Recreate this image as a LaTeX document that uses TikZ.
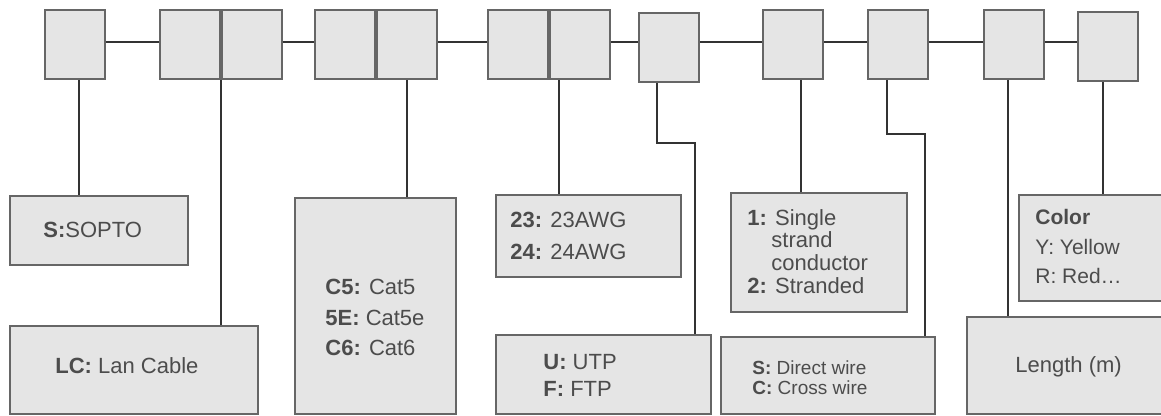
\documentclass[tikz,border=0pt]{standalone}
\usepackage{fontspec}
\setmainfont{Liberation Sans}
\usetikzlibrary{positioning, calc}

\begin{document}
\begin{tikzpicture}[
    x=0.5pt, y=-0.5pt,
    cell/.style={rectangle, draw=black!60, fill=black!10, line width=1pt,
        minimum width=30pt, minimum height=34.5pt, inner sep=0pt},
    codebox/.style={rectangle, draw=black!60, fill=black!10, line width=1pt, inner sep=0pt},
    codetext/.style={inner sep=0pt, align=left, text=black!70, font=\fontsize{11}{13}\selectfont},
    link/.style={draw=black!80, line width=1pt},
]
\useasboundingbox (0,0) rectangle (1161,416);
\clip (0,0) rectangle (1161,416);

% top row of code cells
\node[cell] (b1) at (74.5,44.5) {};
\node[cell] (b2a) at (189.5,44.5) {};
\node[cell, right=0pt of b2a] (b2b) {};
\node[cell] (b3a) at (345,44.5) {};
\node[cell, right=0pt of b3a] (b3b) {};
\node[cell] (b4a) at (518,44.5) {};
\node[cell, right=0pt of b4a] (b4b) {};
\node[cell] (b5) at (669,48) {};
\node[cell] (b6) at (793,44.5) {};
\node[cell] (b7) at (897.5,44.5) {};
\node[cell] (b8) at (1013.5,44.5) {};
\node[cell] (b9) at (1108,46.5) {};

\coordinate (rail) at (0,42);
\foreach \a/\b in {b1/b2a, b2b/b3a, b3b/b4a, b4b/b5, b5/b6, b6/b7, b7/b8, b8/b9}
    \draw[link] (\a.east |- rail) -- (\b.west |- rail);

% legend boxes
\node[codebox, minimum width=89pt, minimum height=34.5pt] (sopto) at (99,230.5) {};
\node[codebox, minimum width=124pt, minimum height=44pt] (lc) at (134,370) {};
\node[codebox, minimum width=80.5pt, minimum height=108pt] (cat) at (375.5,306) {};
\node[codebox, minimum width=92.5pt, minimum height=41pt] (awg) at (588.5,236) {};
\node[codebox, minimum width=107.5pt, minimum height=39.5pt] (utp) at (603.5,374.5) {};
\node[codebox, minimum width=88pt, minimum height=59.5pt] (strand) at (819,252.5) {};
\node[codebox, minimum width=107pt, minimum height=38.5pt] (wire) at (828,375.5) {};
\node[codebox, minimum width=104pt, minimum height=48.5pt] (length) at (1071,365.5) {};
\node[codebox, minimum width=78pt, minimum height=53pt] (color) at (1097,248) {};

\node[codetext, anchor=base west] (soptotxt) at (43,238) {\textbf{S:}SOPTO};
\node[codetext, anchor=base west] (lctxt) at (55,373) {\textbf{LC:} Lan Cable};
\node[codetext, anchor=north west, font=\fontsize{11}{15.25}\selectfont] (cattxt) at (325,279)
    {\textbf{C5:} Cat5\\\textbf{5E:} Cat5e\\\textbf{C6:} Cat6};
\node[codetext, anchor=north west, font=\fontsize{11}{16}\selectfont] (awgtxt) at (510,212)
    {\textbf{23:} 23AWG\\\textbf{24:} 24AWG};
\node[codetext, anchor=north west, font=\fontsize{11}{13.5}\selectfont] (utptxt) at (543,354)
    {\textbf{U:} UTP\\\textbf{F:} FTP};
\node[codetext, anchor=north west, font=\fontsize{11}{11.3}\selectfont] (strandtxt) at (747,209)
    {\textbf{1:} Single\\\hspace*{12pt}strand\\\hspace*{12pt}conductor\\\textbf{2:} Stranded};
\node[codetext, anchor=north west, font=\fontsize{9.5}{10}\selectfont] (wiretxt) at (752,360)
    {\textbf{S:} Direct wire\\\textbf{C:} Cross wire};
\node[codetext, anchor=base west] (lengthtxt) at (1015,372) {Length (m)};
\node[codetext, anchor=north west, font=\fontsize{10.5}{14.75}\selectfont] (colortxt) at (1035,209)
    {\textbf{Color}\\Y: Yellow\\R: Red\dots};

% connectors from cells to legend boxes
\draw[link] ($(b1.south)+(4.5,0)$) coordinate (t1) -- (t1 |- sopto.north);
\draw[link] (b2a.south east) -- (b2a.south east |- lc.north);
\draw[link] (b3b.south) -- (b3b.south |- cat.north);
\draw[link] ($(b4b.south)+(-21,0)$) coordinate (t4) -- (t4 |- awg.north);
\draw[link] ($(b5.south)+(-12,0)$) -- ++(0,60) -| ($(utp.north east)+(-17,0)$);
\draw[link] ($(b6.south)+(8,0)$) coordinate (t6) -- (t6 |- strand.north);
\draw[link] ($(b7.south)+(-10.5,0)$) -- ++(0,54) -| ($(wire.north east)+(-11,0)$);
\draw[link] ($(b8.south)+(-5.5,0)$) coordinate (t8) -- (t8 |- length.north);
\draw[link] ($(b9.south)+(-5,0)$) coordinate (t9) -- (t9 |- color.north);
\end{tikzpicture}
\end{document}
